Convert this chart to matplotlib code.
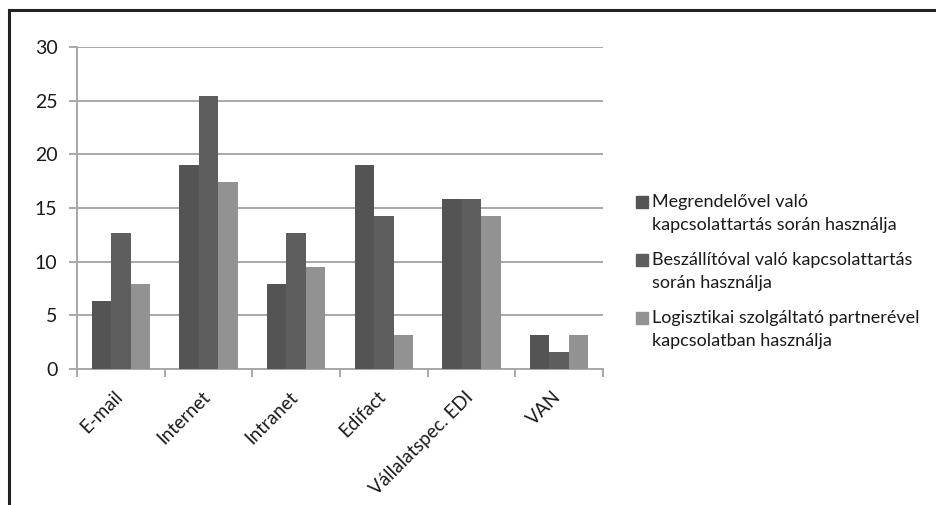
import matplotlib.pyplot as plt
import numpy as np
from matplotlib.patches import Rectangle

# categories and series (share of respondents, %)
categories = ['E-mail', 'Internet', 'Intranet', 'Edifact', 'Vállalatspec. EDI', 'VAN']
megrendelo = [6.35, 19.05, 7.94, 19.05, 15.87, 3.17]
beszallito = [12.70, 25.40, 12.70, 14.29, 15.87, 1.59]
logisztikai = [7.94, 17.46, 9.52, 3.17, 14.29, 3.17]
series_labels = ['Megrendelővel való\nkapcsolattartás során használja',
                 'Beszállítóval való kapcsolattartás\nsorán használja',
                 'Logisztikai szolgáltató partnerével\nkapcsolatban használja']
colors = ['#545454', '#5e5e5e', '#929292']

plt.rcParams['font.family'] = ['Lato', 'DejaVu Sans']

W, H = 937, 505
fig = plt.figure(figsize=(W / 100, H / 100), dpi=100)
ax = fig.add_axes([77 / W, 1 - 369 / H, 526 / W, 322 / H])

# Excel style clustered columns, gap width 150%
width = 1 / 4.5
x = np.arange(len(categories))
for i, vals in enumerate([megrendelo, beszallito, logisztikai]):
    ax.bar(x + (i - 1) * width, vals, width, color=colors[i], zorder=3,
           label=series_labels[i])

ax.set_xlim(-0.5, len(categories) - 0.5)
ax.set_ylim(0, 30)
ax.set_yticks(range(0, 31, 5))
ax.yaxis.grid(True, color='#a8a8a8', linewidth=1.4, zorder=0)

for s in ['top', 'right']:
    ax.spines[s].set_visible(False)
for s in ['left', 'bottom']:
    ax.spines[s].set_color('#a8a8a8')
    ax.spines[s].set_linewidth(1.4)

ax.tick_params(axis='y', length=6, width=1.4, color='#a8a8a8', labelsize=14,
               pad=8, labelcolor='#1a1a1a')
ax.set_xticks(np.arange(len(categories) + 1) - 0.5)
ax.set_xticklabels([])
ax.tick_params(axis='x', length=6, width=1.4, color='#a8a8a8')
for xi, name in zip(x, categories):
    ax.annotate(name, xy=(xi, 0), xycoords=('data', 'axes fraction'),
                xytext=(-1, -18), textcoords='offset points', rotation=45,
                rotation_mode='anchor', ha='right', va='center',
                fontsize=13.5, color='#1a1a1a')

# legend drawn by hand so the swatch sits on the first text line
leg_y = [202, 260, 318]
line_gap = 23
for yy, lab, c in zip(leg_y, series_labels, colors):
    fig.patches.append(Rectangle((636 / W, 1 - (yy + 6) / H), 12 / W, 12 / H,
                                 transform=fig.transFigure, color=c))
    for k, line in enumerate(lab.split('\n')):
        fig.text(652 / W, 1 - (yy + k * line_gap) / H, line, fontsize=13,
                 color='#1a1a1a', va='center', ha='left')

# outer frame: only top and left edges are visible
fig.add_artist(plt.Line2D([9 / W, 1], [1 - 10 / H, 1 - 10 / H],
                          color='#222222', linewidth=2.2, transform=fig.transFigure))
fig.add_artist(plt.Line2D([9 / W, 9 / W], [0, 1 - 10 / H],
                          color='#222222', linewidth=2.2, transform=fig.transFigure))

fig.savefig('out.png', dpi=100)
